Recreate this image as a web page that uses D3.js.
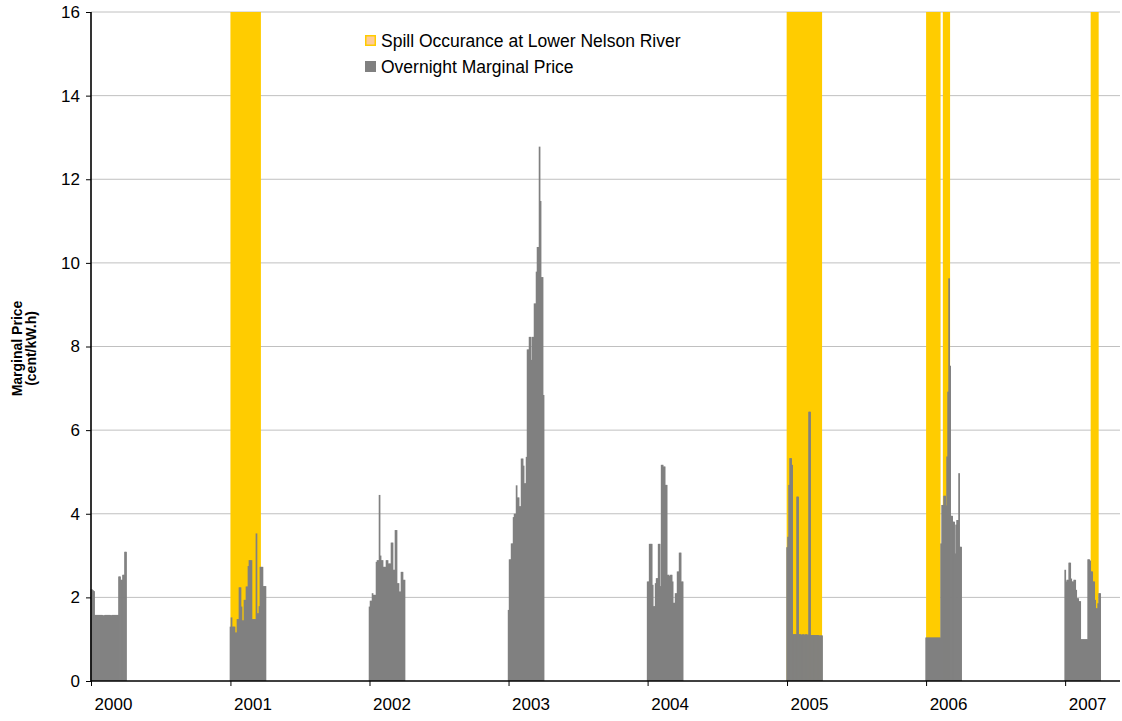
<!DOCTYPE html>
<html>
<head>
<meta charset="utf-8">
<script src="https://cdn.jsdelivr.net/npm/d3@7/dist/d3.min.js"></script>
<style>
  body { margin: 0; background: #fff; }
  svg { display: block; font-family: Arial, "Liberation Sans", sans-serif; }
</style>
</head>
<body>
<div class="svg-container"></div>
<script>
// overnight marginal price (cent/kW.h), one value per step of stepDays, each winter from late December
const years = [2000, 2001, 2002, 2003, 2004, 2005, 2006, 2007];
const stepDays = 2.62;
const leadDays = 2;

const price2000 = [2.19, 2.19, 2.17, 2.15, 1.58, 1.58, 1.58, 1.58, 1.58, 1.58, 1.58, 1.58, 1.57, 1.57, 1.58, 1.58,
  1.58, 1.58, 1.58, 1.58, 1.57, 1.58, 1.58, 1.58, 1.58, 1.58, 1.58, 1.58, 2.50, 2.50, 2.42, 2.42, 2.54, 2.54, 3.09, 3.09];
const price2001 = [1.30, 1.52, 1.30, 1.30, 1.30, 1.16, 1.16, 1.48, 1.48, 2.24, 2.24, 1.78, 1.45, 1.45, 1.94, 1.94,
  2.26, 2.26, 2.75, 2.89, 2.89, 2.89, 1.48, 1.48, 1.48, 1.48, 3.53, 1.62, 1.62, 1.79, 2.73, 2.73, 2.73, 2.27, 2.27, 2.27];
const price2002 = [1.78, 1.92, 1.92, 2.10, 2.06, 2.06, 2.06, 2.85, 2.89, 2.89, 4.45, 3.00, 2.89, 2.89, 2.73, 2.73,
  2.73, 2.89, 2.89, 2.81, 2.81, 2.81, 3.31, 3.31, 2.66, 2.66, 3.61, 3.61, 2.34, 2.34, 2.14, 2.14, 2.61, 2.61, 2.42, 2.42];
const price2003 = [1.70, 2.91, 2.91, 3.29, 3.29, 3.92, 4.00, 4.00, 4.68, 4.39, 4.39, 4.18, 4.18, 5.32, 5.32, 5.15,
  4.73, 4.73, 5.36, 7.93, 7.93, 8.23, 8.23, 7.68, 8.23, 8.23, 9.03, 9.03, 9.79, 10.38, 10.38, 12.78, 11.48, 9.66, 9.66, 6.84];
const price2004 = [2.38, 2.38, 3.28, 3.28, 3.28, 2.30, 1.79, 1.79, 2.34, 2.46, 2.46, 3.28, 3.28, 2.27, 5.17, 5.17,
  5.13, 5.13, 4.69, 4.69, 2.54, 2.54, 2.51, 2.54, 2.54, 2.38, 1.87, 1.87, 2.10, 2.10, 2.62, 2.62, 3.07, 3.07, 2.38, 2.38];
const price2005 = [3.20, 3.45, 4.69, 5.33, 5.33, 5.17, 1.12, 1.12, 1.12, 1.12, 4.41, 4.41, 1.12, 1.12, 1.11, 1.11,
  1.12, 1.11, 1.11, 1.12, 1.11, 1.11, 6.44, 6.44, 1.10, 1.10, 1.10, 1.10, 1.10, 1.10, 1.10, 1.10, 1.09, 1.09, 1.09, 1.09];
const price2006 = [1.04, 1.04, 1.04, 1.04, 1.04, 1.04, 1.04, 1.04, 1.04, 1.04, 1.04, 1.04, 1.04, 1.04, 1.04, 3.29,
  4.21, 4.21, 4.43, 4.43, 4.20, 5.37, 6.92, 9.63, 7.54, 3.95, 3.95, 3.81, 3.81, 3.05, 3.74, 3.85, 3.85, 4.97, 3.21, 3.21];
const price2007 = [2.66, 2.38, 2.42, 2.42, 2.83, 2.83, 2.45, 2.38, 2.38, 2.42, 2.42, 2.18, 1.98, 1.98, 1.91, 1.91,
  1.00, 1.00, 1.00, 1.00, 1.00, 1.00, 1.00, 2.91, 2.91, 2.88, 2.62, 2.62, 2.38, 2.38, 1.94, 1.74, 1.74, 1.86, 2.10, 2.10];
const priceByYear = [price2000, price2001, price2002, price2003, price2004, price2005, price2006, price2007];

// spill periods at Lower Nelson River
const spillStart = ["2001-01-01", "2004-12-31", "2006-01-01", "2006-02-14", "2007-03-09"];
const spillEnd = ["2001-03-22", "2005-04-03", "2006-02-08", "2006-03-05", "2007-03-30"];

const yTicks = [0, 2, 4, 6, 8, 10, 12, 14, 16];
const legendLabels = ["Spill Occurance at Lower Nelson River", "Overnight Marginal Price"];

let margin = { top: 12, right: 2, bottom: 40, left: 91 },
  width = 1122 - margin.left - margin.right,
  height = 721 - margin.top - margin.bottom;

let svg = d3.select(".svg-container").append("svg")
  .attr("width", 1122)
  .attr("height", 721);

let g = svg.append("g")
  .attr("transform", "translate(" + margin.left + "," + margin.top + ")");

let parseDate = d3.timeParse("%Y-%m-%d");
let dayMs = 864e5;

let x = d3.scaleTime()
  .domain([new Date(2000, 0, 1), new Date(2007, 4, 25)])
  .range([0, width]);

let y = d3.scaleLinear()
  .domain([0, 16])
  .range([height, 0]);

// flatten the bars
let bars = [];
years.forEach((yr, i) => {
  let start = new Date(yr, 0, 1).getTime() - leadDays * dayMs;
  priceByYear[i].forEach((v, j) => {
    bars.push({
      x0: new Date(start + j * stepDays * dayMs),
      x1: new Date(start + (j + 1) * stepDays * dayMs),
      value: v
    });
  });
});

let spills = spillStart.map((s, i) => ({ x0: parseDate(s), x1: parseDate(spillEnd[i]) }));

// gridlines
g.selectAll(".grid")
  .data(yTicks.filter(d => d > 0))
  .enter().append("line")
  .attr("class", "grid")
  .attr("x1", 0)
  .attr("x2", width)
  .attr("y1", d => y(d))
  .attr("y2", d => y(d))
  .attr("stroke", "#c0c0c0")
  .attr("stroke-width", 1);

// spill bands
g.selectAll(".spill")
  .data(spills)
  .enter().append("rect")
  .attr("class", "spill")
  .attr("x", d => x(d.x0))
  .attr("width", d => x(d.x1) - x(d.x0))
  .attr("y", y(16))
  .attr("height", y(0) - y(16))
  .attr("fill", "#ffcc00");

// price bars
g.selectAll(".bar")
  .data(bars)
  .enter().append("rect")
  .attr("class", "bar")
  .attr("x", d => x(d.x0))
  .attr("width", d => x(d.x1) - x(d.x0) + 0.7)
  .attr("y", d => y(d.value))
  .attr("height", d => y(0) - y(d.value))
  .attr("fill", "#808080");

// axes
let xAxis = d3.axisBottom(x)
  .ticks(d3.timeYear.every(1))
  .tickFormat(d3.timeFormat("%Y"))
  .tickSize(5)
  .tickPadding(12);

let xg = g.append("g")
  .attr("transform", "translate(0," + height + ")")
  .call(xAxis);
xg.select(".domain").remove();
xg.selectAll(".tick line").attr("stroke", "#000");
xg.selectAll(".tick text")
  .attr("x", 22)
  .style("font-size", "17px")
  .attr("fill", "#000");

g.append("line")
  .attr("x1", 0).attr("x2", width)
  .attr("y1", height).attr("y2", height)
  .attr("stroke", "#000")
  .attr("stroke-width", 1.6);

let yAxis = d3.axisLeft(y)
  .tickValues(yTicks)
  .tickSize(5)
  .tickPadding(6);

let yg = g.append("g").call(yAxis);
yg.select(".domain").remove();
yg.selectAll(".tick line").attr("stroke", "#000");
yg.selectAll(".tick text")
  .style("font-size", "17px")
  .attr("fill", "#000");

g.append("line")
  .attr("x1", 0).attr("x2", 0)
  .attr("y1", 0).attr("y2", height)
  .attr("stroke", "#000")
  .attr("stroke-width", 1.6);

// y axis title
let yTitle = svg.append("text")
  .attr("transform", "translate(22," + (margin.top + height / 2 + 2) + ") rotate(-90)")
  .attr("text-anchor", "middle")
  .style("font-size", "14px")
  .style("font-weight", "bold");
yTitle.append("tspan").attr("x", 0).attr("dy", 0).text("Marginal Price");
yTitle.append("tspan").attr("x", 0).attr("dy", 14).text("(cent/kW.h)");

// legend
let legendColors = [{ fill: "#ffcc99", stroke: "#ffcc00" }, { fill: "#808080", stroke: "#808080" }];
let legend = svg.selectAll(".legend")
  .data(legendLabels)
  .enter().append("g")
  .attr("class", "legend")
  .attr("transform", (d, i) => "translate(365," + (35 + i * 26) + ")");

legend.append("rect")
  .attr("x", 0.75)
  .attr("y", 0.75)
  .attr("width", 9.5)
  .attr("height", 9.5)
  .attr("fill", (d, i) => legendColors[i].fill)
  .attr("stroke", (d, i) => legendColors[i].stroke)
  .attr("stroke-width", 1.5);

legend.append("text")
  .attr("x", 16)
  .attr("y", 11.5)
  .style("font-size", "17.5px")
  .attr("fill", "#000")
  .text(d => d);
</script>
</body>
</html>
